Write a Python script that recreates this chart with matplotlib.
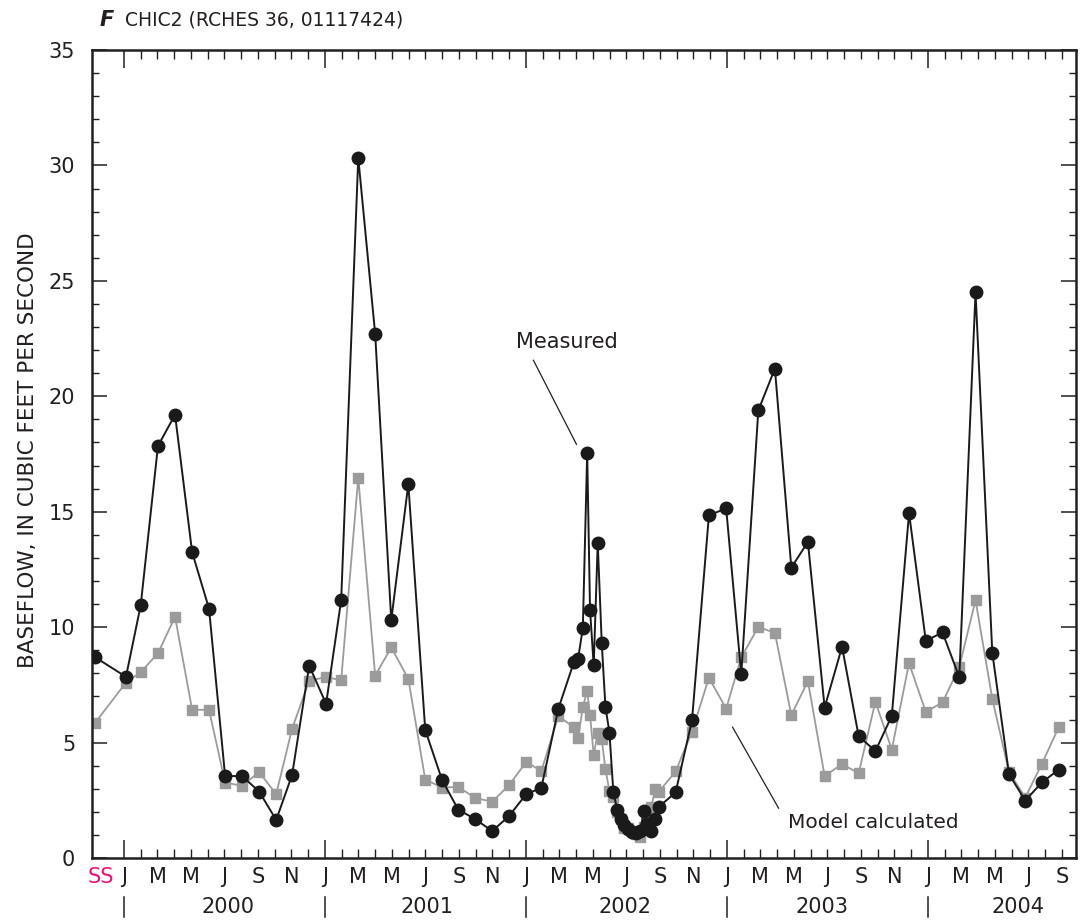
# -*- coding: utf-8 -*-
# Baseflow at CHIC2: measured vs model calculated, steady state + 2000-2004

import numpy as np
import matplotlib
matplotlib.use('Agg')
import matplotlib.pyplot as plt
import matplotlib.transforms as mtransforms
from matplotlib.ticker import FixedLocator

plt.rcParams['font.family'] = ['Liberation Sans Narrow', 'DejaVu Sans']

# Sample times in months after 1 Jan 2000 (first entry = steady state "SS")
months_ss = [-1.73]
months_0001 = [0.12, 1.0, 2.03, 3.05, 4.07, 5.08, 6.04, 7.05, 8.07, 9.09, 10.04, 11.06,
               12.07, 12.97, 13.99, 15.0, 15.96, 16.98, 17.99, 19.0, 19.96, 20.98, 21.99, 23.0,
               24.03, 24.92, 25.94]
months_2002 = [26.86, 27.12, 27.4, 27.66, 27.83, 28.05, 28.29, 28.53, 28.75, 28.99, 29.22,
               29.45, 29.65, 29.87, 30.1, 30.35, 30.6, 30.82, 31.04, 31.24, 31.48, 31.72, 31.94]
months_0304 = [32.94, 33.92, 34.93, 35.96, 36.86, 37.88, 38.87, 39.85, 40.84, 41.84, 42.88,
               43.87, 44.87, 45.85, 46.88, 47.88, 48.88, 49.88, 50.85, 51.85, 52.85, 53.82,
               54.82, 55.82]

# Baseflow, cubic feet per second
measured_ss = [8.7]
measured_0001 = [7.85, 10.95, 17.85, 19.2, 13.25, 10.8, 3.55, 3.55, 2.88, 1.65, 3.6, 8.33,
                 6.68, 11.17, 30.33, 22.7, 10.3, 16.2, 5.55, 3.37, 2.1, 1.68, 1.17, 1.82,
                 2.78, 3.03, 6.47]
measured_2002 = [8.47, 8.64, 9.96, 17.53, 10.76, 8.34, 13.65, 9.31, 6.55, 5.43, 2.88,
                 2.1, 1.7, 1.45, 1.26, 1.12, 1.1, 1.17, 2.02, 1.48, 1.15, 1.68, 2.22]
measured_0304 = [2.84, 5.97, 14.85, 15.14, 7.96, 19.39, 21.2, 12.58, 13.69, 6.52, 9.15,
                 5.28, 4.63, 6.16, 14.94, 9.41, 9.77, 7.83, 24.51, 8.9, 3.63, 2.49, 3.28, 3.83]

model_ss = [5.85]
model_0001 = [7.6, 8.05, 8.87, 10.45, 6.42, 6.42, 3.27, 3.13, 3.72, 2.77, 5.6, 7.68,
              7.84, 7.7, 16.47, 7.9, 9.12, 7.76, 3.4, 3.05, 3.08, 2.6, 2.44, 3.16,
              4.17, 3.76, 6.15]
model_2002 = [5.66, 5.2, 6.53, 7.24, 6.19, 4.46, 5.43, 5.14, 3.84, 2.91, 2.63,
              2.0, 1.7, 1.3, 1.3, 1.15, 1.05, 0.92, 1.35, 1.8, 2.2, 2.97, 2.87]
model_0304 = [3.75, 5.47, 7.81, 6.47, 8.69, 10.01, 9.75, 6.19, 7.66, 3.55, 4.07,
              3.67, 6.77, 4.7, 8.44, 6.33, 6.74, 8.27, 11.17, 6.9, 3.72, 2.62, 4.09, 5.67]

months = np.array(months_ss + months_0001 + months_2002 + months_0304)
measured = np.array(measured_ss + measured_0001 + measured_2002 + measured_0304)
model = np.array(model_ss + model_0001 + model_2002 + model_0304)

# Axis labels
month_letters = ['J', 'M', 'M', 'J', 'S', 'N']
years = ['2000', '2001', '2002', '2003', '2004']
year_label_pos = [6.2, 18.1, 29.9, 41.7, 53.4]

fig = plt.figure(figsize=(10.86, 9.24), dpi=100)
ax = fig.add_axes([0.0847, 0.0714, 0.9061, 0.8745])

ax.plot(months, model, color='#9b9b9b', lw=1.3, marker='s', ms=7,
        mfc='#9b9b9b', mec='#9b9b9b', zorder=2)
ax.plot(months, measured, color='#1a1a1a', lw=1.4, marker='o', ms=9,
        mfc='#1a1a1a', mec='#1a1a1a', zorder=3)

ax.set_xlim(-1.91, 56.85)
ax.set_ylim(0, 35)

# ticks on all four sides, pointing inward
ax.xaxis.set_major_locator(FixedLocator([0, 12, 24, 36, 48]))
ax.xaxis.set_minor_locator(FixedLocator(np.arange(0, 57)))
ax.yaxis.set_major_locator(FixedLocator(np.arange(0, 36, 5)))
ax.yaxis.set_minor_locator(FixedLocator(np.arange(0, 36, 1)))
ax.tick_params(axis='x', which='major', direction='in', length=13, width=1.1,
               top=True, labelbottom=False, color='#231f20')
ax.tick_params(axis='x', which='minor', direction='in', length=6.5, width=1.0,
               top=True, color='#231f20')
ax.tick_params(axis='y', which='major', direction='in', length=11, width=1.1,
               right=True, labelsize=15, pad=12, color='#231f20', labelcolor='#231f20')
ax.tick_params(axis='y', which='minor', direction='in', length=5, width=1.0,
               right=True, color='#231f20')
for s in ax.spines.values():
    s.set_linewidth(1.8)
    s.set_color('#231f20')

# month letters and year labels under the axis
trans = mtransforms.blended_transform_factory(ax.transData, ax.transAxes)
ax.text(-1.35, -0.024, 'SS', transform=trans, ha='center', va='center',
        fontsize=15, color='#e6147d')
for yr in range(5):
    for k, letter in enumerate(month_letters):
        m = yr * 12 + k * 2
        if m > 56:
            break
        ax.text(m, -0.024, letter, transform=trans, ha='center', va='center',
                fontsize=15, color='#231f20')
    ax.plot([yr * 12, yr * 12], [-0.048, -0.073], transform=trans, color='#231f20',
            lw=1.1, clip_on=False)
    ax.text(year_label_pos[yr], -0.061, years[yr], transform=trans, ha='center',
            va='center', fontsize=15, color='#231f20')

# callouts
ax.text(23.43, 22.34, 'Measured', ha='left', va='center', fontsize=15, color='#231f20')
ax.plot([24.45, 27.02], [21.56, 17.92], color='#231f20', lw=0.9)
ax.text(39.63, 1.56, 'Model calculated', ha='left', va='center', fontsize=14.5,
        color='#231f20')
ax.plot([36.34, 39.09], [5.67, 2.16], color='#231f20', lw=0.9)

fig.text(0.0258, 0.513, 'BASEFLOW, IN CUBIC FEET PER SECOND', rotation=90,
         ha='center', va='center', fontsize=15.5, color='#231f20')
fig.text(0.092, 0.978, 'F', fontsize=15, fontweight='bold', fontstyle='italic',
         ha='left', va='center', color='#231f20', family=['DejaVu Sans'])
fig.text(0.115, 0.978, 'CHIC2 (RCHES 36, 01117424)', fontsize=13.5, ha='left',
         va='center', color='#231f20')

fig.savefig('out.png', dpi=100)
